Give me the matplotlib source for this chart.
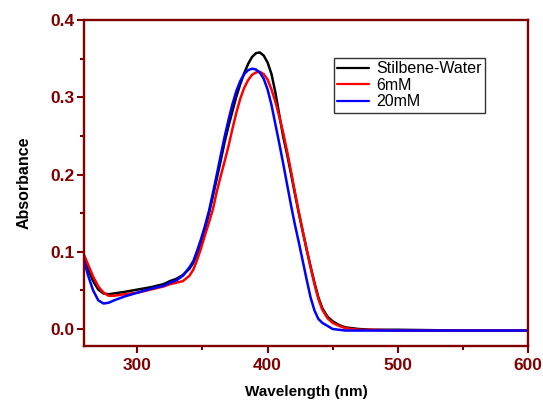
import matplotlib
matplotlib.use("Agg")
import matplotlib.pyplot as plt
from matplotlib.ticker import MultipleLocator

plt.rcParams['font.family'] = ['Liberation Sans', 'DejaVu Sans']

wavelength = [259, 262, 266, 270, 274, 278, 282, 290, 300, 310, 320, 325, 330, 335,
              340, 343, 346, 349, 352, 355, 358, 361, 364, 367,
              370, 373, 376, 379, 382, 385, 388, 391, 394, 397,
              400, 403, 406, 409, 412, 415, 418, 421, 424, 427,
              430, 433, 436, 439, 442, 446, 450, 455, 460,
              470, 480, 500, 550, 600]

stilbene_water = [0.092, 0.078, 0.062, 0.051, 0.046, 0.045, 0.046, 0.048, 0.051, 0.054,
                  0.058, 0.062, 0.065, 0.070,
                  0.078, 0.086, 0.098, 0.113, 0.130, 0.150, 0.172, 0.195, 0.218, 0.242,
                  0.263, 0.282, 0.301, 0.317, 0.331, 0.343, 0.352, 0.357, 0.358, 0.354,
                  0.345, 0.330, 0.306, 0.277, 0.249, 0.226, 0.201, 0.175, 0.150, 0.126,
                  0.103, 0.081, 0.060, 0.041, 0.027, 0.016, 0.010, 0.005, 0.002,
                  0.000, -0.001, -0.001, -0.002, -0.002]

mm6 = [0.096, 0.084, 0.068, 0.055, 0.047, 0.043, 0.043, 0.045, 0.047, 0.051,
       0.055, 0.058, 0.060, 0.062,
       0.069, 0.077, 0.090, 0.105, 0.122, 0.138, 0.155, 0.178, 0.198, 0.217,
       0.237, 0.259, 0.280, 0.298, 0.312, 0.322, 0.329, 0.332, 0.333, 0.330,
       0.323, 0.310, 0.294, 0.275, 0.254, 0.230, 0.204, 0.177, 0.151, 0.127,
       0.103, 0.080, 0.058, 0.039, 0.025, 0.014, 0.008, 0.004, 0.001,
       -0.001, -0.001, -0.002, -0.002, -0.002]

mm20 = [0.090, 0.070, 0.050, 0.037, 0.033, 0.034, 0.037, 0.042, 0.047, 0.052,
        0.056, 0.060, 0.063, 0.069,
        0.080, 0.088, 0.102, 0.117, 0.134, 0.153, 0.176, 0.200, 0.225, 0.249,
        0.271, 0.291, 0.308, 0.321, 0.330, 0.335, 0.337, 0.336, 0.332, 0.324,
        0.310, 0.290, 0.265, 0.240, 0.214, 0.187, 0.160, 0.135, 0.112, 0.088,
        0.064, 0.041, 0.024, 0.013, 0.008, 0.004, 0.000, -0.001, -0.002,
        -0.002, -0.002, -0.002, -0.002, -0.002]

labels = ["Stilbene-Water", "6mM", "20mM"]
colors = ["#000000", "#ff0000", "#0000ff"]
series = [stilbene_water, mm6, mm20]

dark_red = "#800000"

fig = plt.figure(figsize=(5.43, 4.04), dpi=100)
ax = fig.add_axes([84/543, 1 - 346/404, (528-84)/543, (346-20)/404])

for s, c, l in zip(series, colors, labels):
    ax.plot(wavelength, s, color=c, lw=1.8, label=l,
            solid_joinstyle='round', solid_capstyle='round')

ax.set_xlim(259, 600)
ax.set_ylim(-0.022, 0.4)
ax.xaxis.set_minor_locator(MultipleLocator(50))
ax.yaxis.set_minor_locator(MultipleLocator(0.05))
ax.set_yticks([0.0, 0.1, 0.2, 0.3, 0.4])
ax.set_yticklabels(["0.0", "0.1", "0.2", "0.3", "0.4"])
ax.set_xticks([300, 400, 500, 600])

for sp in ax.spines.values():
    sp.set_color(dark_red)
    sp.set_linewidth(1.7)

ax.tick_params(axis='both', which='major', direction='out', length=5, width=1.5,
               color=dark_red, labelcolor=dark_red, labelsize=12.5)
ax.tick_params(axis='both', which='minor', direction='out', length=3, width=1.5,
               color=dark_red)
ax.tick_params(axis='y', which='major', pad=2)
ax.tick_params(axis='x', which='major', pad=4)
for t in ax.get_xticklabels() + ax.get_yticklabels():
    t.set_fontweight('bold')

ax.set_xlabel("Wavelength (nm)", fontsize=11, fontweight='bold', color='black', labelpad=8)
ax.set_ylabel("Absorbance", fontsize=11.5, fontweight='bold', color='black', labelpad=13)

leg = ax.legend(loc='upper left', bbox_to_anchor=(334/543, 1 - 58/404),
                bbox_transform=fig.transFigure, frameon=True, fancybox=False,
                edgecolor='black', fontsize=11.5, handlelength=2.0, handletextpad=0.45,
                labelspacing=0.1, borderpad=0.2, borderaxespad=0)
leg.get_frame().set_linewidth(1.0)
for line in leg.get_lines():
    line.set_linewidth(1.6)

fig.savefig("out.png", dpi=100)
